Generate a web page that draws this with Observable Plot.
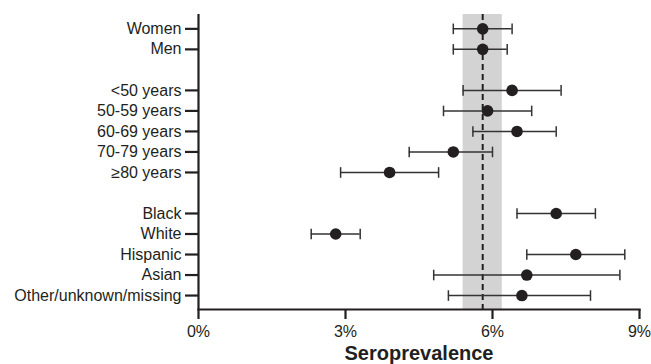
<!DOCTYPE html>
<html><head><meta charset="utf-8">
<script src="https://cdn.jsdelivr.net/npm/d3@7"></script>
<script src="https://cdn.jsdelivr.net/npm/@observablehq/plot@0.6"></script>
<style>body{margin:0;background:#fff}</style>
</head><body><div id="chart"></div>
<script>
// ---- data ----
const groups = ["Sex","Sex","Age","Age","Age","Age","Age","Race","Race","Race","Race","Race"];
const labels = ["Women","Men","<50 years","50-59 years","60-69 years","70-79 years","≥80 years","Black","White","Hispanic","Asian","Other/unknown/missing"];
const estimate = [5.8, 5.8, 6.4, 5.9, 6.5, 5.2, 3.9, 7.3, 2.8, 7.7, 6.7, 6.6];
const lower    = [5.2, 5.2, 5.4, 5.0, 5.6, 4.3, 2.9, 6.5, 2.3, 6.7, 4.8, 5.1];
const upper    = [6.4, 6.3, 7.4, 6.8, 7.3, 6.0, 4.9, 8.1, 3.3, 8.7, 8.6, 8.0];
const overall = [5.8];
const overallLower = [5.4];
const overallUpper = [6.2];
const xTicks = [0, 3, 6, 9];
const xTitle = "Seroprevalence";

// ---- build table (blank row between groups) ----
let slot = -1, prev = null;
const rows = labels.map((label, i) => {
  if (prev !== null && groups[i] !== prev) slot++;
  slot++; prev = groups[i];
  return {label, group: groups[i], slot, est: estimate[i], lo: lower[i], hi: upper[i]};
});
const labelBySlot = new Map(rows.map(d => [d.slot, d.label]));
const band = overall.map((v, i) => ({v, lo: overallLower[i], hi: overallUpper[i]}));

const ink = "#231f20";
const cap = {draw(context, size) { const r = Math.sqrt(size / Math.PI); context.moveTo(0, -r); context.lineTo(0, r); }};

const chart = Plot.plot({
  width: 651, height: 364,
  marginLeft: 198, marginRight: 12, marginTop: 14, marginBottom: 55,
  style: {fontFamily: "'Liberation Sans', Arial, sans-serif", fontSize: "16px", color: ink, background: "#fff"},
  x: {domain: [0, 9]},
  y: {domain: [-0.7, slot + 0.68], reverse: true},
  marks: [
    Plot.rect(band, {x1: "lo", x2: "hi", fill: "#d3d3d3"}),
    Plot.ruleX(band, {x: "v", stroke: ink, strokeWidth: 2, strokeDasharray: "6,4"}),
    Plot.ruleY(rows, {y: "slot", x1: "lo", x2: "hi", stroke: "#333", strokeWidth: 1.5}),
    Plot.dot(rows, {x: "lo", y: "slot", symbol: cap, r: 5.3, stroke: "#333", strokeWidth: 1.5, fill: "none"}),
    Plot.dot(rows, {x: "hi", y: "slot", symbol: cap, r: 5.3, stroke: "#333", strokeWidth: 1.5, fill: "none"}),
    Plot.dot(rows, {x: "est", y: "slot", r: 5.8, fill: ink, stroke: "none"}),
    Plot.ruleX([0], {stroke: ink, strokeWidth: 2.2}),
    Plot.frame({anchor: "bottom", stroke: ink, strokeWidth: 2.2}),
    Plot.axisY({ticks: rows.map(d => d.slot), tickFormat: s => labelBySlot.get(s), tickSize: 13, tickPadding: 4, strokeWidth: 2.2, label: null, fontSize: 16}),
    Plot.axisX({ticks: xTicks, tickFormat: d => d + "%", tickSize: 10, tickPadding: 6, strokeWidth: 2.2, label: null, fontSize: 16}),
    Plot.text([xTitle], {frameAnchor: "bottom", text: d => d, dy: 36, lineAnchor: "top", fontSize: 20, fontWeight: "bold", fill: ink})
  ]
});
document.getElementById("chart").append(chart);
</script>
</body></html>
